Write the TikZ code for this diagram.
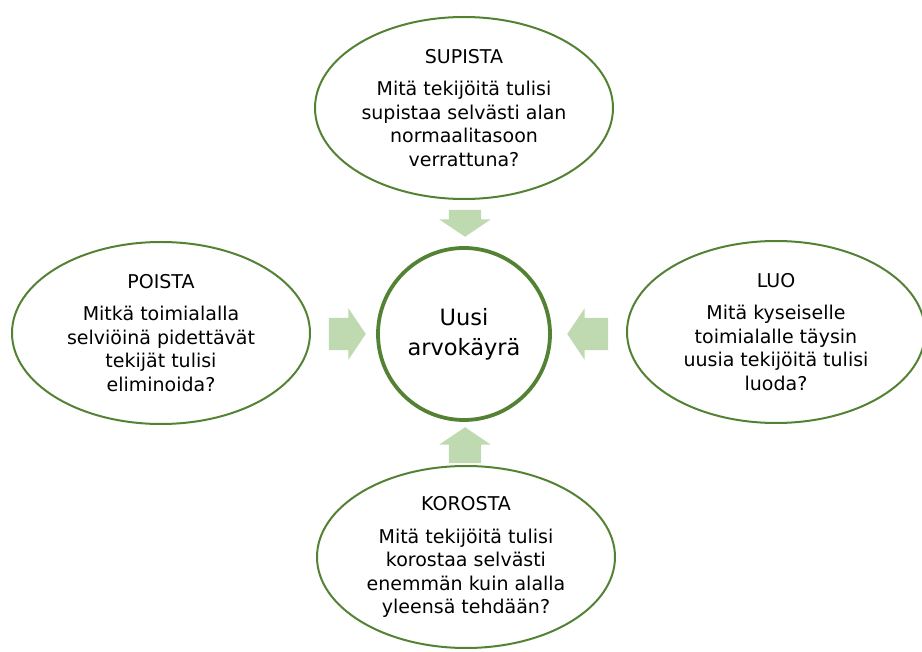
\documentclass[tikz,border=0pt]{standalone}
\usepackage{fontspec}
\setmainfont{DejaVu Sans}
\usetikzlibrary{shapes.geometric,shapes.arrows}
\definecolor{leafgreen}{HTML}{548235}
\definecolor{palegreen}{HTML}{BFD9B0}
\tikzset{
  idea/.style={ellipse,draw=leafgreen,line width=2pt,minimum width=298pt,
    minimum height=182pt,inner sep=0pt,align=center,
    font=\fontsize{19}{23.5}\selectfont},
  hub/.style={circle,draw=leafgreen,line width=3.8pt,minimum size=172pt,
    inner sep=0pt,align=center,font=\fontsize{22.5}{30}\selectfont},
  push/.style={single arrow,fill=palegreen,draw=none,inner xsep=0pt,
    inner ysep=16pt,single arrow head extend=9.5pt,
    single arrow tip angle=112,rotate=#1,anchor=tip}
}
\begin{document}
\begin{tikzpicture}[x=1pt,y=-1pt]
\useasboundingbox (0,0) rectangle (922,652);
% centre
\node[hub] (curve) at (464,334) {Uusi\\arvokäyrä};
% four actions
\node[idea] (reduce) at (464,108) {SUPISTA\\[9pt]Mitä tekijöitä tulisi\\supistaa selvästi alan\\normaalitasoon\\verrattuna?};
\node[idea] (remove) at (161,333) {POISTA\\[9pt]Mitkä toimialalla\\selviöinä pidettävät\\tekijät tulisi\\eliminoida?};
\node[idea] (create) at (776,332) {LUO\\[9pt]Mitä kyseiselle\\toimialalle täysin\\uusia tekijöitä tulisi\\luoda?};
\node[idea] (raise) at (466,557) {KOROSTA\\[9pt]Mitä tekijöitä tulisi\\korostaa selvästi\\enemmän kuin alalla\\yleensä tehdään?};
% block arrows towards the centre
\node[push=270,minimum height=27pt] (fromreduce) at (465,237) {};
\node[push=0,minimum height=37pt] (fromremove) at (366,334) {};
\node[push=180,minimum height=41pt] (fromcreate) at (567,334) {};
\node[push=90,minimum height=36pt] (fromraise) at (465,427) {};
\end{tikzpicture}
\end{document}
